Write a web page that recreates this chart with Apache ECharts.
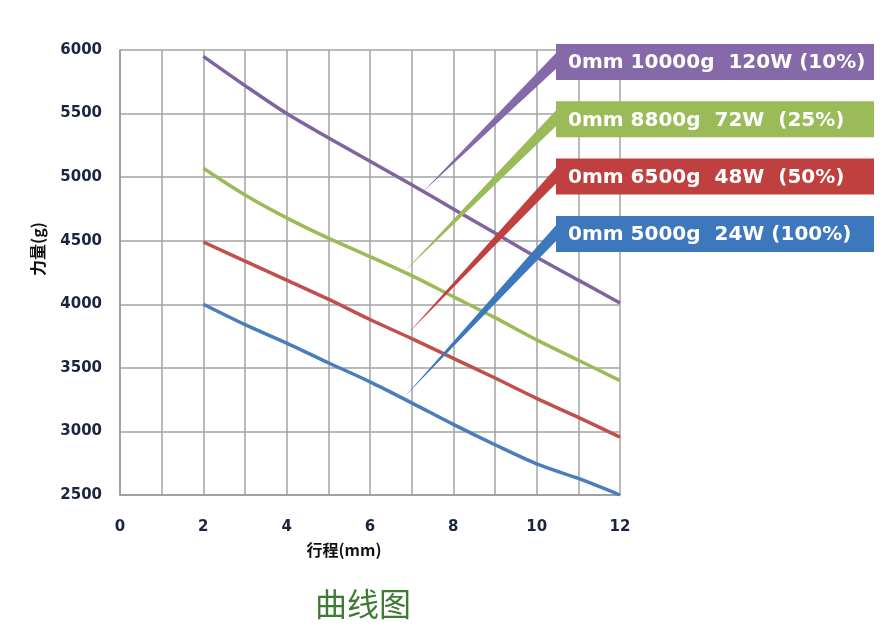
<!DOCTYPE html>
<html>
<head>
<meta charset="utf-8">
<script src="https://cdn.jsdelivr.net/npm/echarts@6/dist/echarts.min.js"></script>
<style>
html,body{margin:0;padding:0;background:#fff;}
#main{width:891px;height:638px;}
</style>
</head>
<body>
<div id="main"></div>
<script>
// ---- data ----
const strokeValues = [2, 3, 4, 5, 6, 7, 8, 9, 10, 11, 12];
const seriesNames = ['0mm 10000g  120W (10%)', '0mm 8800g  72W  (25%)', '0mm 6500g  48W  (50%)', '0mm 5000g  24W (100%)'];
const force10 = [5950, 5720, 5500, 5310, 5125, 4940, 4750, 4560, 4370, 4190, 4010];
const force25 = [5070, 4860, 4680, 4520, 4375, 4225, 4060, 3895, 3720, 3560, 3400];
const force50 = [4490, 4340, 4190, 4040, 3880, 3730, 3575, 3420, 3260, 3110, 2955];
const force100 = [4000, 3840, 3695, 3540, 3390, 3225, 3055, 2895, 2745, 2630, 2500];
const calloutTips = [[7.28, 4888], [6.8, 4250], [6.88, 3760], [6.8, 3262]];
const xTicks = [0, 2, 4, 6, 8, 10, 12];
const yTicks = [2500, 3000, 3500, 4000, 4500, 5000, 5500, 6000];
const xAxisTitle = '行程(mm)';
const yAxisTitle = '力量(g)';
const chartTitle = '曲线图';

const lineColors = ['#8064a2', '#9bbb59', '#c0504d', '#4a7ebb'];
const boxColors = ['#8669a8', '#9bbb59', '#c0403f', '#3d78bc'];
const allSeries = [force10, force25, force50, force100];

const chart = echarts.init(document.getElementById('main'));

const lineSeries = allSeries.map((vals, i) => ({
  name: seriesNames[i],
  type: 'line',
  data: strokeValues.map((x, k) => [x, vals[k]]),
  showSymbol: false,
  smooth: 0.3,
  lineStyle: { color: lineColors[i], width: 3.5 },
  itemStyle: { color: lineColors[i] },
  z: 3
}));

const calloutSeries = {
  type: 'custom',
  clip: false,
  z: 5,
  data: calloutTips.map((t, i) => [t[0], t[1], i]),
  renderItem: function (params, api) {
    const i = api.value(2);
    const p = api.coord([api.value(0), api.value(1)]);
    const left = 556, top = 44 + i * 57.3, w = 318, h = 36;
    return {
      type: 'group',
      children: [
        {
          type: 'polygon',
          shape: { points: [[p[0], p[1]], [p[0] + 0.6, p[1] - 0.6], [left + 2, top + 7], [left + 2, top + 23]] },
          style: { fill: boxColors[i] }
        },
        {
          type: 'rect',
          shape: { x: left, y: top, width: w, height: h },
          style: { fill: boxColors[i] }
        },
        {
          type: 'text',
          style: {
            x: left + 12, y: top + h / 2 + 1,
            text: seriesNames[i],
            fill: '#fff',
            font: 'bold 20px "DejaVu Sans"',
            textAlign: 'left',
            textVerticalAlign: 'middle'
          }
        }
      ]
    };
  }
};

const labelStyle = {
  color: '#1b2440',
  fontFamily: 'DejaVu Sans',
  fontWeight: 'bold',
  fontSize: 15
};

chart.setOption({
  animation: false,
  backgroundColor: '#fff',
  grid: { left: 120, right: 271, top: 50, bottom: 143 },
  xAxis: {
    type: 'value', min: 0, max: 12, interval: 1,
    axisLine: { show: true, lineStyle: { color: '#999', width: 1.5 } },
    axisTick: { show: false },
    splitLine: { show: true, lineStyle: { color: '#a3a3a3', width: 1.5 } },
    axisLabel: Object.assign({}, labelStyle, {
      margin: 25,
      formatter: v => (xTicks.indexOf(v) >= 0 ? String(v) : '')
    })
  },
  yAxis: {
    type: 'value', min: 2500, max: 6000, interval: 500,
    axisLine: { show: true, lineStyle: { color: '#999', width: 1.5 } },
    axisTick: { show: false },
    splitLine: { show: true, lineStyle: { color: '#a3a3a3', width: 1.5 } },
    axisLabel: Object.assign({}, labelStyle, {
      margin: 18,
      formatter: v => (yTicks.indexOf(v) >= 0 ? String(v) : '')
    })
  },
  graphic: [
    {
      type: 'text', x: 344, y: 550,
      style: { text: xAxisTitle, font: 'bold 16px "Noto Sans CJK SC"', fill: '#111', textAlign: 'center', textVerticalAlign: 'middle' }
    },
    {
      type: 'text', x: 38, y: 249, rotation: Math.PI / 2,
      style: { text: yAxisTitle, font: 'bold 16px "Noto Sans CJK SC"', fill: '#111', textAlign: 'center', textVerticalAlign: 'middle' }
    },
    {
      type: 'text', x: 363, y: 604,
      style: { text: chartTitle, font: '32px "Noto Sans CJK SC"', fill: '#3f7a34', textAlign: 'center', textVerticalAlign: 'middle' }
    }
  ],
  series: lineSeries.concat([calloutSeries])
});
</script>
</body>
</html>
